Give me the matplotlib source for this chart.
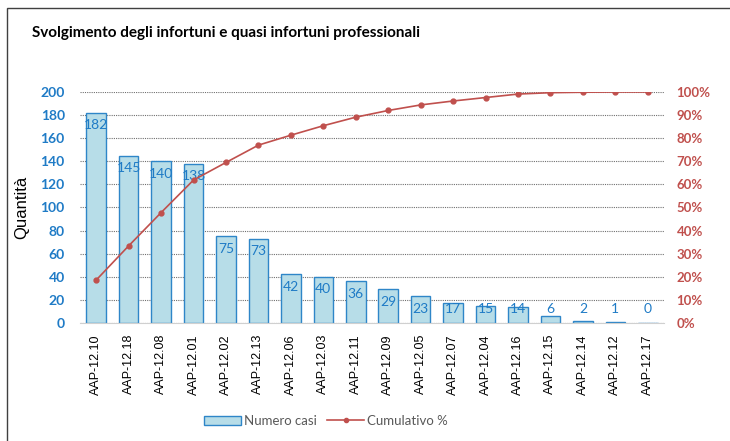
import matplotlib
matplotlib.use('Agg')
import matplotlib.pyplot as plt
from matplotlib.patches import Rectangle
from matplotlib.lines import Line2D
from matplotlib.ticker import FuncFormatter

plt.rcParams['font.family'] = ['Lato', 'DejaVu Sans']

codes = ['AAP-12.10', 'AAP-12.18', 'AAP-12.08', 'AAP-12.01', 'AAP-12.02', 'AAP-12.13',
         'AAP-12.06', 'AAP-12.03', 'AAP-12.11', 'AAP-12.09', 'AAP-12.05', 'AAP-12.07',
         'AAP-12.04', 'AAP-12.16', 'AAP-12.15', 'AAP-12.14', 'AAP-12.12', 'AAP-12.17']
casi = [182, 145, 140, 138, 75, 73, 42, 40, 36, 29, 23, 17, 15, 14, 6, 2, 1, 0]
cumul = [18.6, 33.4, 47.8, 61.9, 69.5, 77.0, 81.3, 85.4, 89.1, 92.0, 94.4, 96.1,
         97.6, 99.1, 99.7, 99.9, 100.0, 100.0]

bar_fill = '#b7dde8'
bar_edge = '#2e86c8'
blue_txt = '#1f7bc6'
red = '#c0504d'

fig = plt.figure(figsize=(7.3, 4.41), dpi=100)
ax = fig.add_axes([0.1096, 0.2676, 0.8, 0.5238])
ax2 = ax.twinx()
ax.set_zorder(ax2.get_zorder() - 1)
ax.patch.set_visible(False)

x = list(range(len(codes)))
ax.bar(x, casi, width=0.6, color=bar_fill, edgecolor=bar_edge, linewidth=1.0, zorder=2)
for xi, v in zip(x, casi):
    ax.text(xi, max(v - 11, 12), str(v), ha='center', va='center',
            color=blue_txt, fontsize=10)

ax.set_xlim(-0.5, len(codes) - 0.5)
ax.set_ylim(0, 200)
ax.set_yticks(range(0, 201, 20))
ax.yaxis.grid(True, linestyle=(0, (1, 1)), color='#707070', linewidth=0.8, zorder=0)
ax.set_axisbelow(True)
ax.set_xticks(x)
ax.set_xticklabels(codes, rotation=90, fontsize=9, family=['Liberation Sans', 'DejaVu Sans'])
ax.tick_params(axis='both', length=0)
ax.tick_params(axis='x', pad=8)
ax.tick_params(axis='y', pad=11)
for lab in ax.get_yticklabels():
    lab.set_color(blue_txt)
    lab.set_fontweight('bold')
    lab.set_fontsize(10)
for s in ['top', 'right', 'left']:
    ax.spines[s].set_visible(False)
ax.spines['bottom'].set_color('#d0d0d0')
ax.set_ylabel('Quantità', fontsize=12, labelpad=8, family=['Liberation Sans', 'DejaVu Sans'])

ax2.plot(x, cumul, color=red, linewidth=1.2, marker='o', markersize=3.5, zorder=3)
ax2.set_ylim(0, 100)
ax2.set_yticks(range(0, 101, 10))
ax2.yaxis.set_major_formatter(FuncFormatter(lambda v, p: '%d%%' % v))
ax2.tick_params(axis='y', length=0, pad=9)
for lab in ax2.get_yticklabels():
    lab.set_color(red)
    lab.set_fontweight('bold')
    lab.set_fontsize(9.5)
for s in ax2.spines.values():
    s.set_visible(False)

fig.text(32 / 730, 1 - 33 / 441, 'Svolgimento degli infortuni e quasi infortuni professionali',
         fontsize=11, fontweight='bold', va='center', ha='left')

handles = [Rectangle((0, 0), 1, 1, facecolor=bar_fill, edgecolor=bar_edge, linewidth=1.0),
           Line2D([], [], color=red, marker='o', markersize=3, linewidth=1.2)]
leg = fig.legend(handles, ['Numero casi', 'Cumulativo %'], loc='center',
                 bbox_to_anchor=(326 / 730, 1 - 421 / 441), ncol=2, frameon=False,
                 fontsize=9.5, handlelength=2.8, handletextpad=0.2, columnspacing=0.8)
for t in leg.get_texts():
    t.set_color('#595959')

fig.add_artist(Rectangle((7 / 730, -0.05), 1.0, 1 - 8 / 441 + 0.05, transform=fig.transFigure,
                         fill=False, edgecolor='#404040', linewidth=1.0))

fig.savefig('out.png', dpi=100)
